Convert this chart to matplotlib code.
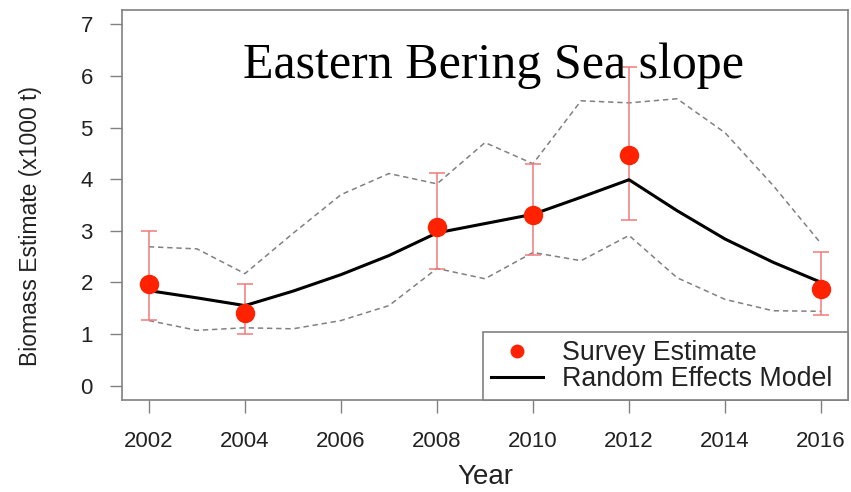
import numpy as np
import matplotlib.pyplot as plt
from matplotlib.lines import Line2D

RED = '#ff2200'
ERR = '#f07a7a'
GREY = '#808080'

# survey estimates with their interval ends
survey_years = [2002, 2004, 2008, 2010, 2012, 2016]
survey_est = [1.97, 1.40, 3.07, 3.30, 4.46, 1.87]
survey_hi = [3.00, 1.96, 4.13, 4.30, 6.17, 2.58]
survey_lo = [1.28, 1.00, 2.26, 2.54, 3.21, 1.37]

# random effects model fit and its bounds
model_years = list(range(2002, 2017))
model_fit = [1.84, 1.70, 1.55, 1.83, 2.15, 2.52, 2.96, 3.14, 3.32, 3.65, 3.99,
             3.39, 2.84, 2.39, 2.00]
model_hi = [2.69, 2.65, 2.17, 2.95, 3.70, 4.11, 3.91, 4.71, 4.30, 5.52, 5.48,
            5.56, 4.90, 3.88, 2.75]
model_lo = [1.26, 1.07, 1.12, 1.10, 1.26, 1.55, 2.27, 2.07, 2.58, 2.42, 2.91,
            2.09, 1.67, 1.45, 1.44]

plt.rcParams['font.family'] = ['Liberation Sans', 'DejaVu Sans']

fig = plt.figure(figsize=(8.51, 4.92), dpi=100)
ax = fig.add_axes([122 / 851, 92 / 492, 726 / 851, 390 / 492])

ax.plot(model_years, model_hi, ls=(0, (3.5, 2.5)), color=GREY, lw=1.1)
ax.plot(model_years, model_lo, ls=(0, (3.5, 2.5)), color=GREY, lw=1.1)
ax.plot(model_years, model_fit, color='black', lw=2.2, zorder=4)

est = np.array(survey_est)
yerr = [est - np.array(survey_lo), np.array(survey_hi) - est]
ax.errorbar(survey_years, survey_est, yerr=yerr, fmt='none', ecolor=ERR,
            elinewidth=1.1, capsize=6, capthick=1.1, zorder=3)
ax.plot(survey_years, survey_est, 'o', color=RED, ms=14, mec='none', zorder=5)

ax.set_xlim(2001.44, 2016.56)
ax.set_ylim(-0.28, 7.28)
ax.set_xticks(range(2002, 2017, 2))
ax.set_yticks(range(0, 8))

for s in ax.spines.values():
    s.set_color(GREY)
    s.set_linewidth(1.2)
ax.tick_params(axis='both', length=9, width=1, color=GREY, labelsize=16,
               labelcolor='#222222')
ax.tick_params(axis='x', pad=13)
ax.tick_params(axis='y', pad=12)

ax.set_xlabel('Year', fontsize=20, labelpad=9, color='#222222')
ax.set_ylabel('Biomass Estimate (x1000 t)', fontsize=16.5, color='#222222')
ax.yaxis.set_label_coords(-0.110, 0.446)

ax.text(0.512, 0.826, 'Eastern Bering Sea slope', transform=ax.transAxes,
        ha='center', va='baseline', fontsize=36, family='Liberation Serif')

handles = [Line2D([], [], ls='none', marker='o', color=RED, ms=10, mec='none'),
           Line2D([], [], color='black', lw=2.2)]
leg = ax.legend(handles, ['Survey Estimate', 'Random Effects Model'],
                loc='lower left', bbox_to_anchor=(0.497, 0, 0.503, 0.185),
                mode='expand', borderaxespad=0, fontsize=19.3,
                fancybox=False, framealpha=1, edgecolor=GREY,
                borderpad=0.3, labelspacing=0.0, handlelength=1.95,
                handletextpad=0.7)
leg.get_frame().set_linewidth(1.2)
for t in leg.get_texts():
    t.set_color('#222222')

fig.savefig('out.png', dpi=100)
